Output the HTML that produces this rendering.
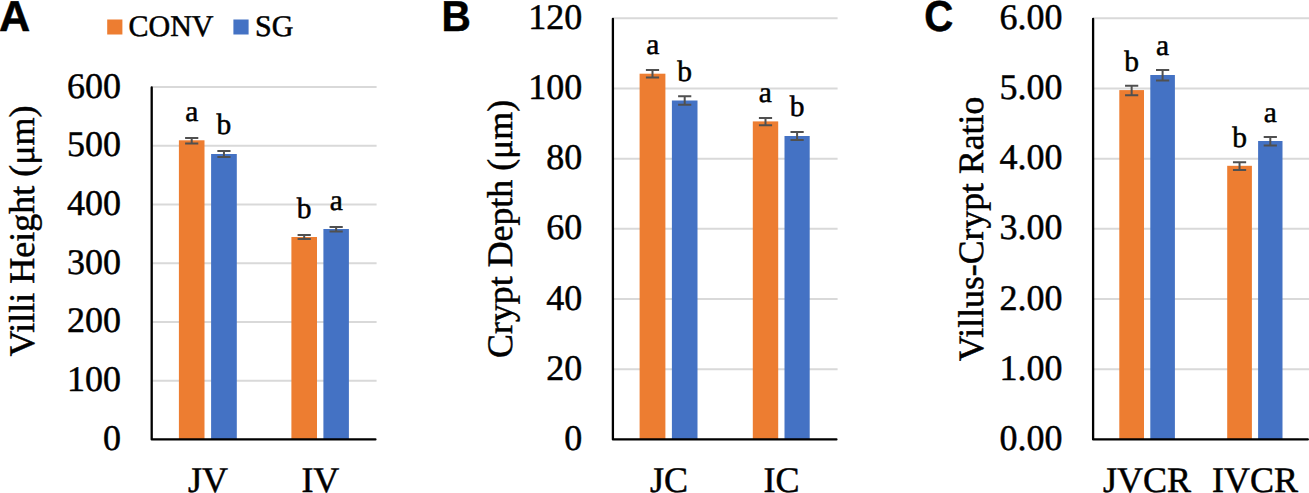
<!DOCTYPE html>
<html><head><meta charset="utf-8"><style>
html,body{margin:0;padding:0;background:#fff;}
body{width:1309px;height:493px;overflow:hidden;}
svg{display:block;}
text{font-family:"Liberation Serif",serif;fill:#000;text-rendering:geometricPrecision;stroke:#000;stroke-width:0.5px;}
.lt{font-family:"Liberation Sans",sans-serif;font-weight:bold;}
</style></head><body>
<svg width="1309" height="493" viewBox="0 0 1309 493">
<line x1="151.7" y1="380.67" x2="376.6" y2="380.67" stroke="#D9D9D9" stroke-width="2"/>
<line x1="151.7" y1="321.93" x2="376.6" y2="321.93" stroke="#D9D9D9" stroke-width="2"/>
<line x1="151.7" y1="263.20" x2="376.6" y2="263.20" stroke="#D9D9D9" stroke-width="2"/>
<line x1="151.7" y1="204.47" x2="376.6" y2="204.47" stroke="#D9D9D9" stroke-width="2"/>
<line x1="151.7" y1="145.73" x2="376.6" y2="145.73" stroke="#D9D9D9" stroke-width="2"/>
<line x1="151.7" y1="87.00" x2="376.6" y2="87.00" stroke="#D9D9D9" stroke-width="2"/>
<rect x="178.9" y="140.3" width="25.60" height="299.10" fill="#ED7D31"/>
<rect x="211.1" y="154.0" width="25.70" height="285.40" fill="#4472C4"/>
<rect x="291.4" y="237.0" width="25.60" height="202.40" fill="#ED7D31"/>
<rect x="323.4" y="229.0" width="25.50" height="210.40" fill="#4472C4"/>
<path d="M185.10 137.90H198.30M185.10 143.40H198.30M191.70 137.90V143.40" stroke="#505050" stroke-width="2" fill="none"/>
<path d="M217.35 150.90H230.55M217.35 156.90H230.55M223.95 150.90V156.90" stroke="#505050" stroke-width="2" fill="none"/>
<path d="M297.60 234.90H310.80M297.60 239.10H310.80M304.20 234.90V239.10" stroke="#505050" stroke-width="2" fill="none"/>
<path d="M329.55 227.00H342.75M329.55 231.50H342.75M336.15 227.00V231.50" stroke="#505050" stroke-width="2" fill="none"/>
<path d="M151.7 87.5V439.4H375.45000000000005" stroke="#000" stroke-width="2.3" stroke-linecap="round" stroke-linejoin="round" fill="none"/>
<text x="121.00" y="449.90" font-size="36" text-anchor="end" >0</text>
<text x="121.00" y="391.17" font-size="36" text-anchor="end" >100</text>
<text x="121.00" y="332.43" font-size="36" text-anchor="end" >200</text>
<text x="121.00" y="273.70" font-size="36" text-anchor="end" >300</text>
<text x="121.00" y="214.97" font-size="36" text-anchor="end" >400</text>
<text x="121.00" y="156.23" font-size="36" text-anchor="end" >500</text>
<text x="121.00" y="97.50" font-size="36" text-anchor="end" >600</text>
<text x="207.93" y="491.9" font-size="36" text-anchor="middle" >JV</text>
<text x="320.38" y="491.9" font-size="36" text-anchor="middle" >IV</text>
<text x="191.7" y="121.0" font-size="29.5" text-anchor="middle" >a</text>
<text x="223.8" y="134.4" font-size="29.5" text-anchor="middle" >b</text>
<text x="304.1" y="217.6" font-size="29.5" text-anchor="middle" >b</text>
<text x="336.2" y="209.8" font-size="29.5" text-anchor="middle" >a</text>
<text transform="translate(33.5 356.5) rotate(-90)" font-size="36" text-anchor="start">Villi Height (μm)</text>
<text transform="translate(-1 31) scale(1.0 1)" font-size="43.2" class="lt" text-anchor="start">A</text>
<line x1="612.9" y1="369.22" x2="837.6" y2="369.22" stroke="#D9D9D9" stroke-width="2"/>
<line x1="612.9" y1="299.03" x2="837.6" y2="299.03" stroke="#D9D9D9" stroke-width="2"/>
<line x1="612.9" y1="228.85" x2="837.6" y2="228.85" stroke="#D9D9D9" stroke-width="2"/>
<line x1="612.9" y1="158.67" x2="837.6" y2="158.67" stroke="#D9D9D9" stroke-width="2"/>
<line x1="612.9" y1="88.48" x2="837.6" y2="88.48" stroke="#D9D9D9" stroke-width="2"/>
<line x1="612.9" y1="18.30" x2="837.6" y2="18.30" stroke="#D9D9D9" stroke-width="2"/>
<rect x="639.6" y="73.7" width="25.80" height="365.70" fill="#ED7D31"/>
<rect x="671.9" y="100.5" width="25.60" height="338.90" fill="#4472C4"/>
<rect x="752.8" y="121.4" width="25.40" height="318.00" fill="#ED7D31"/>
<rect x="784.5" y="136.0" width="25.20" height="303.40" fill="#4472C4"/>
<path d="M645.90 70.00H659.10M645.90 77.60H659.10M652.50 70.00V77.60" stroke="#505050" stroke-width="2" fill="none"/>
<path d="M678.10 96.30H691.30M678.10 104.70H691.30M684.70 96.30V104.70" stroke="#505050" stroke-width="2" fill="none"/>
<path d="M758.90 118.00H772.10M758.90 125.20H772.10M765.50 118.00V125.20" stroke="#505050" stroke-width="2" fill="none"/>
<path d="M790.50 132.00H803.70M790.50 139.90H803.70M797.10 132.00V139.90" stroke="#505050" stroke-width="2" fill="none"/>
<path d="M612.9 18.8V439.4H836.45" stroke="#000" stroke-width="2.3" stroke-linecap="round" stroke-linejoin="round" fill="none"/>
<text x="582.20" y="449.90" font-size="36" text-anchor="end" >0</text>
<text x="582.20" y="379.72" font-size="36" text-anchor="end" >20</text>
<text x="582.20" y="309.53" font-size="36" text-anchor="end" >40</text>
<text x="582.20" y="239.35" font-size="36" text-anchor="end" >60</text>
<text x="582.20" y="169.17" font-size="36" text-anchor="end" >80</text>
<text x="582.20" y="98.98" font-size="36" text-anchor="end" >100</text>
<text x="582.20" y="28.80" font-size="36" text-anchor="end" >120</text>
<text x="669.08" y="491.9" font-size="36" text-anchor="middle" >JC</text>
<text x="781.42" y="491.9" font-size="36" text-anchor="middle" >IC</text>
<text x="652.8" y="53.8" font-size="29.5" text-anchor="middle" >a</text>
<text x="684.7" y="81.0" font-size="29.5" text-anchor="middle" >b</text>
<text x="765.2" y="102.0" font-size="29.5" text-anchor="middle" >a</text>
<text x="797.0" y="116.2" font-size="29.5" text-anchor="middle" >b</text>
<text transform="translate(511.5 357.9) rotate(-90)" font-size="35.85" text-anchor="start">Crypt Depth (μm)</text>
<text transform="translate(441.6 31) scale(0.94 1)" font-size="43.2" class="lt" text-anchor="start">B</text>
<line x1="1093.1" y1="369.22" x2="1309" y2="369.22" stroke="#D9D9D9" stroke-width="2"/>
<line x1="1093.1" y1="299.03" x2="1309" y2="299.03" stroke="#D9D9D9" stroke-width="2"/>
<line x1="1093.1" y1="228.85" x2="1309" y2="228.85" stroke="#D9D9D9" stroke-width="2"/>
<line x1="1093.1" y1="158.67" x2="1309" y2="158.67" stroke="#D9D9D9" stroke-width="2"/>
<line x1="1093.1" y1="88.48" x2="1309" y2="88.48" stroke="#D9D9D9" stroke-width="2"/>
<line x1="1093.1" y1="18.30" x2="1309" y2="18.30" stroke="#D9D9D9" stroke-width="2"/>
<rect x="1119.3" y="90.1" width="24.70" height="349.30" fill="#ED7D31"/>
<rect x="1150.3" y="75.0" width="24.60" height="364.40" fill="#4472C4"/>
<rect x="1227.2" y="165.8" width="24.70" height="273.60" fill="#ED7D31"/>
<rect x="1258.1" y="141.0" width="24.40" height="298.40" fill="#4472C4"/>
<path d="M1125.05 85.70H1138.25M1125.05 95.30H1138.25M1131.65 85.70V95.30" stroke="#505050" stroke-width="2" fill="none"/>
<path d="M1156.00 70.00H1169.20M1156.00 80.50H1169.20M1162.60 70.00V80.50" stroke="#505050" stroke-width="2" fill="none"/>
<path d="M1232.95 162.20H1246.15M1232.95 170.00H1246.15M1239.55 162.20V170.00" stroke="#505050" stroke-width="2" fill="none"/>
<path d="M1263.70 137.10H1276.90M1263.70 145.60H1276.90M1270.30 137.10V145.60" stroke="#505050" stroke-width="2" fill="none"/>
<path d="M1093.1 18.8V439.4H1307.85" stroke="#000" stroke-width="2.3" stroke-linecap="round" stroke-linejoin="round" fill="none"/>
<text x="1062.40" y="449.90" font-size="36" text-anchor="end" >0.00</text>
<text x="1062.40" y="379.72" font-size="36" text-anchor="end" >1.00</text>
<text x="1062.40" y="309.53" font-size="36" text-anchor="end" >2.00</text>
<text x="1062.40" y="239.35" font-size="36" text-anchor="end" >3.00</text>
<text x="1062.40" y="169.17" font-size="36" text-anchor="end" >4.00</text>
<text x="1062.40" y="98.98" font-size="36" text-anchor="end" >5.00</text>
<text x="1062.40" y="28.80" font-size="36" text-anchor="end" >6.00</text>
<text x="1147.07" y="491.9" font-size="36" text-anchor="middle" >JVCR</text>
<text x="1255.03" y="491.9" font-size="36" text-anchor="middle" >IVCR</text>
<text x="1131.7" y="71.0" font-size="29.5" text-anchor="middle" >b</text>
<text x="1162.5" y="55.2" font-size="29.5" text-anchor="middle" >a</text>
<text x="1239.7" y="146.5" font-size="29.5" text-anchor="middle" >b</text>
<text x="1270.3" y="121.9" font-size="29.5" text-anchor="middle" >a</text>
<text transform="translate(983.4 361.3) rotate(-90)" font-size="35.7" text-anchor="start">Villus-Crypt Ratio</text>
<text transform="translate(924.2 31) scale(0.93 1)" font-size="43.2" class="lt" text-anchor="start">C</text>
<rect x="107.2" y="19.5" width="15.2" height="15" fill="#ED7D31"/>
<rect x="233.4" y="19.5" width="15.2" height="15" fill="#4472C4"/>
<text x="128.5" y="36.4" font-size="30" text-anchor="start" >CONV</text>
<text x="255.0" y="36.4" font-size="30" text-anchor="start" >SG</text>
</svg>
</body></html>
